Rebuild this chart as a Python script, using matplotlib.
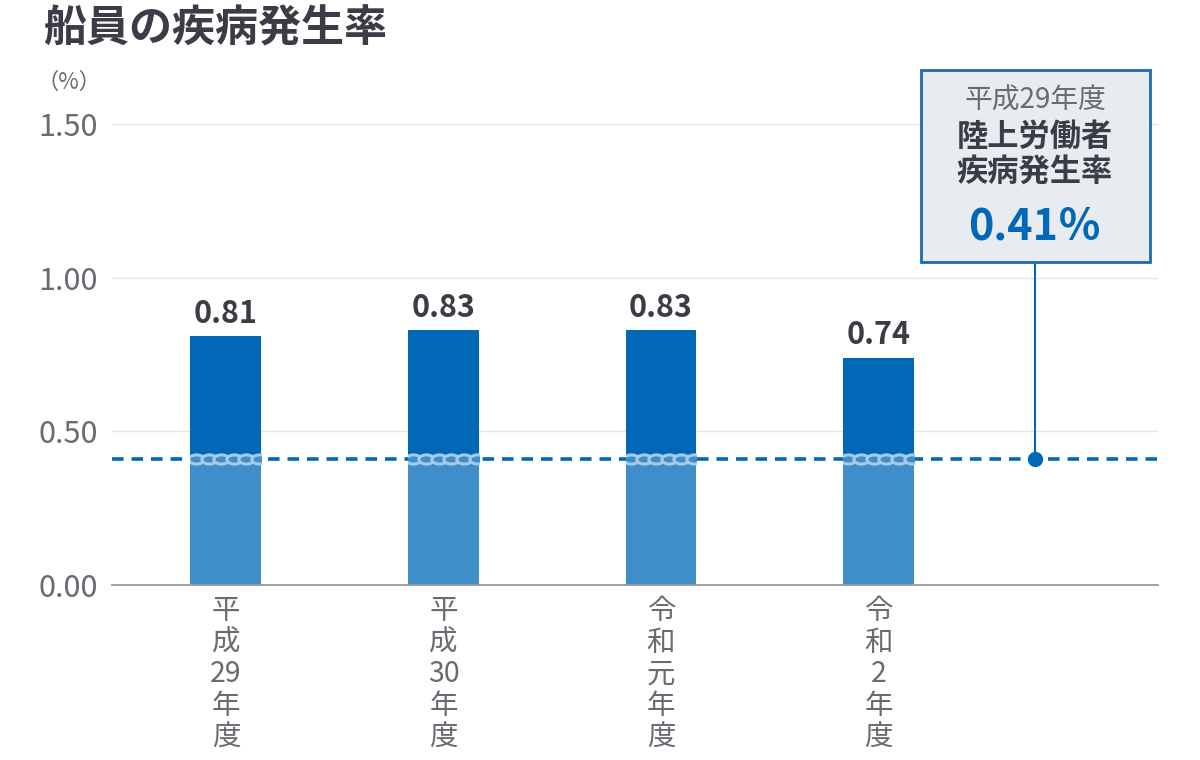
import matplotlib
matplotlib.use('Agg')
import matplotlib.pyplot as plt
import numpy as np
from matplotlib.path import Path
from matplotlib.transforms import Affine2D

plt.rcParams['font.family'] = ['Noto Sans CJK JP', 'DejaVu Sans']

# データ
years = ['平\n成\n29\n年\n度', '平\n成\n30\n年\n度', '令\n和\n元\n年\n度', '令\n和\n2\n年\n度']
rates = [0.81, 0.83, 0.83, 0.74]
land_rate = 0.41
y_ticks = [0.0, 0.5, 1.0, 1.5]

dark = '#0068b7'
light = '#3f8dc9'
chain = '#a4cbea'
txt = '#3c3c46'
gray = '#6a6a72'

fig = plt.figure(figsize=(12, 7.6), dpi=100)
ax = fig.add_axes([0.0933, 0.2303, 0.8717, 0.6065])

x = np.arange(len(rates))
w = 0.326
low = [min(r, land_rate) for r in rates]
high = [max(r - land_rate, 0) for r in rates]
ax.bar(x, low, w, color=light, zorder=2)
ax.bar(x, high, w, bottom=low, color=dark, zorder=2)

# 値ラベル
for xi, r in zip(x, rates):
    ax.text(xi, r + 0.02, f'{r:.2f}', ha='center', va='bottom', fontsize=22,
            fontweight='bold', color=txt)

# 陸上労働者の基準線
ax.axhline(land_rate, color=dark, lw=2.6, ls=(0, (3.2, 2.2)), zorder=3)

# 棒の中はくさり模様
oval = Path.unit_circle().transformed(Affine2D().scale(1, 0.6))
for xi in x:
    clip = plt.Rectangle((xi - w / 2, 0), w, 1.0, transform=ax.transData)
    xs = np.arange(xi - w / 2 + 0.025, xi + w / 2 + 0.03, 0.058)
    ln, = ax.plot(xs, [land_rate] * len(xs), ls='none', marker=oval, ms=11,
                  mfc=light, mec=chain, mew=2.2, zorder=4)
    ln.set_clip_path(clip)

mx = 3.72
ax.plot([mx, mx], [land_rate, 1.05], color=dark, lw=1.5, zorder=4)
ax.plot(mx, land_rate, 'o', color=dark, ms=10, zorder=5)

ax.set_xlim(-0.524, 4.285)
ax.set_ylim(0, 1.5)
ax.set_yticks(y_ticks)
ax.set_yticklabels([f'{t:.2f}' for t in y_ticks], fontsize=22, color=gray)
ax.set_xticks(x)
ax.set_xticklabels(years, fontsize=20.5, color=gray, linespacing=1.07, va='top')
ax.tick_params(length=0, pad=10)
ax.tick_params(axis='x', pad=8)
ax.grid(axis='y', color='#e4e4e4', lw=1, zorder=0)
for s in ['top', 'left', 'right']:
    ax.spines[s].set_visible(False)
ax.spines['bottom'].set_color('#999999')
ax.spines['bottom'].set_linewidth(1.3)
ax.spines['bottom'].set_zorder(5)

fig.text(0.036, 0.962, '船員の疾病発生率', fontsize=31, fontweight='bold', color=txt,
         va='center', ha='left')
fig.text(0.030, 0.891, '（%）', fontsize=16, color=gray, va='center', ha='left')

# 吹き出し
fig.patches.append(plt.Rectangle((921 / 1200, 1 - 262 / 760), 229 / 1200, 192 / 760,
                                 transform=fig.transFigure, facecolor='#e8ebf0',
                                 edgecolor='#1e69b0', lw=2, zorder=10))
cx = 1035 / 1200
fig.text(cx, 1 - 101 / 760, '平成29年度', fontsize=20, color=gray, ha='center', va='center', zorder=11)
fig.text(cx, 1 - 137 / 760, '陸上労働者', fontsize=22.5, fontweight='bold', color=txt, ha='center', va='center', zorder=11)
fig.text(cx, 1 - 173 / 760, '疾病発生率', fontsize=22.5, fontweight='bold', color=txt, ha='center', va='center', zorder=11)
fig.text(cx, 1 - 226 / 760, f'{land_rate:.2f}％', fontsize=31, fontweight='bold', color=dark,
         ha='center', va='center', zorder=11)

fig.savefig('out.png', dpi=100)
